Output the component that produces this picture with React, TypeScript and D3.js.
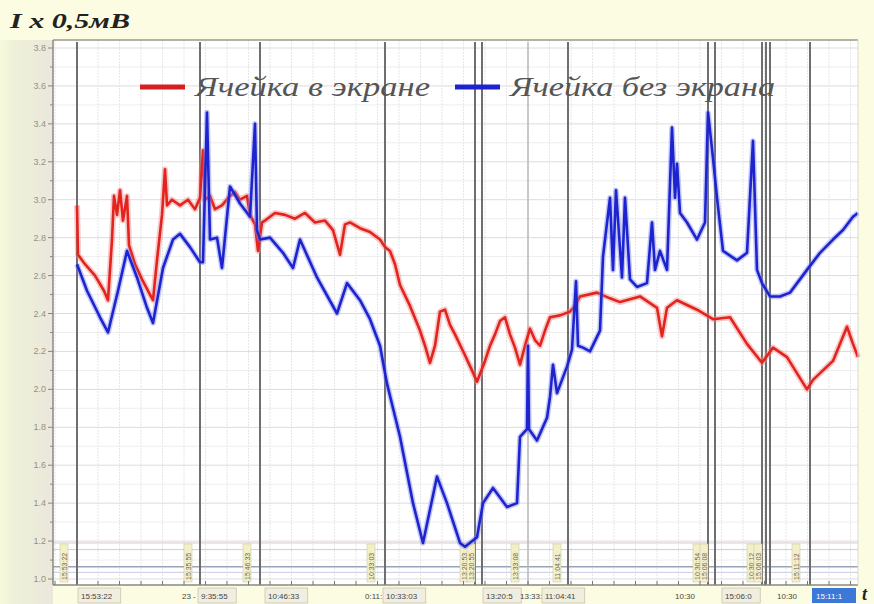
import React from "react";
import * as d3 from "d3";

// time index (arbitrary units, 0..803) and values in units of 0.5 mV
const RED_T = [22,23,30,40,49,53,57,59,62,65,68,72,74,80,87,95,98,102,107,110,112,117,125,133,140,145,148,150,155,160,167,175,180,185,192,195,200,203,207,210,220,230,240,250,260,270,278,285,290,295,305,315,325,330,335,340,345,355,365,370,375,380,385,390,395,400,410,417,422,430,435,440,445,450,455,460,465,470,475,480,485,490,495,505,515,520,525,542,555,565,585,602,607,612,622,642,658,675,692,707,718,732,752,758,778,792,798,803];
const RED_V = [2.97,2.71,2.66,2.60,2.52,2.47,2.79,3.02,2.92,3.05,2.89,3.02,2.76,2.66,2.58,2.50,2.47,2.68,2.92,3.16,2.97,3.00,2.97,3.00,2.95,3.01,3.26,3.00,3.02,2.95,2.97,3.02,3.04,3.00,3.02,2.92,2.87,2.73,2.88,2.89,2.93,2.92,2.90,2.93,2.88,2.89,2.84,2.71,2.87,2.88,2.85,2.83,2.79,2.75,2.73,2.66,2.55,2.44,2.31,2.23,2.14,2.23,2.41,2.42,2.34,2.29,2.18,2.10,2.04,2.15,2.23,2.29,2.36,2.38,2.29,2.22,2.13,2.23,2.32,2.26,2.23,2.31,2.38,2.39,2.41,2.44,2.49,2.51,2.48,2.46,2.49,2.43,2.28,2.43,2.47,2.42,2.37,2.38,2.24,2.14,2.22,2.17,2.00,2.05,2.15,2.33,2.24,2.17];

const BLUE_T = [22,32,45,53,63,72,82,92,98,108,118,125,135,145,148,152,155,162,167,175,185,195,200,202,205,215,228,238,245,262,282,292,305,315,325,332,345,358,368,382,392,405,410,422,428,438,452,462,465,472,473,474,482,492,495,498,502,512,517,521,523,528,535,545,548,555,558,561,567,570,575,582,592,597,600,605,612,617,620,622,625,632,642,650,653,658,662,668,682,692,698,702,707,715,725,735,752,765,778,788,798,803];
const BLUE_V = [2.66,2.52,2.38,2.30,2.52,2.73,2.59,2.43,2.35,2.64,2.79,2.82,2.75,2.67,2.67,3.46,2.79,2.80,2.64,3.07,2.98,2.91,3.40,2.84,2.79,2.80,2.72,2.64,2.79,2.59,2.40,2.56,2.47,2.37,2.23,2.03,1.75,1.40,1.19,1.54,1.40,1.19,1.17,1.22,1.40,1.48,1.38,1.40,1.75,1.79,2.23,1.79,1.73,1.85,1.96,2.13,1.98,2.12,2.21,2.57,2.23,2.22,2.20,2.31,2.70,3.01,2.63,3.05,2.59,3.01,2.58,2.54,2.56,2.88,2.63,2.73,2.63,3.38,3.01,3.19,2.93,2.88,2.79,2.88,3.46,3.22,3.01,2.73,2.68,2.72,3.31,2.63,2.56,2.49,2.49,2.51,2.63,2.72,2.79,2.84,2.91,2.93];

const Y_TICKS = [1.0,1.2,1.4,1.6,1.8,2.0,2.2,2.4,2.6,2.8,3.0,3.2,3.4,3.6,3.8];
const MARKERS = [22,145,205,330,420,427,513,653,660,707,711,715,755];
const LIGHT_MARKERS = [473];
const SERIES_NAMES = ["Ячейка в экране", "Ячейка без экрана"];
const BOTTOM_LABELS: [number, string, boolean][] = [
  [26, "15:53:22", true],
  [127, "23 -", false],
  [146, "9:35:55", true],
  [213, "10:46:33", true],
  [310, "0:11:", false],
  [331, "10:33:03", true],
  [431, "13:20:5", true],
  [465, "13:33:", false],
  [490, "11:04:41", true],
  [620, "10:30", false],
  [670, "15:06:0", true],
  [722, "10:30", false],
];
const ROT_LABELS: [number, string][] = [
  [16, "15:53:22"],[140, "15:35:55"],[199, "15:46:33"],[323, "10:33:03"],
  [416, "13:20:53"],[423, "13:20:55"],[467, "13:33:08"],[509, "11:04:41"],
  [649, "10:30:54"],[656, "15:06:08"],[703, "10:30:12"],[710, "15:06:03"],[748, "15:11:12"],
];
const H_MARKS = [1.19, 1.155, 1.065, 1.035];

export default function App() {
  const W = 874, H = 604;
  const x = d3.scaleLinear().domain([0, 803]).range([55, 858]);
  const y = d3.scaleLinear().domain([1.0, 3.8]).range([579, 48]);
  const plotL = 53, plotR = 858, plotT = 40, plotB = 585;

  const red = RED_T.map((t, i) => [t, RED_V[i]] as [number, number]);
  const blue = BLUE_T.map((t, i) => [t, BLUE_V[i]] as [number, number]);
  const line = d3.line<[number, number]>().x(d => x(d[0])).y(d => y(d[1]));

  const minorY = d3.range(1.0, 3.85, 0.1);
  const vGrid = d3.range(0, 803, 21.5);

  return (
    <svg width={W} height={H} style={{ position: "absolute", left: 0, top: 0 }}>
      <defs>
        <linearGradient id="lg" x1="0" x2="1" y1="0" y2="0">
          <stop offset="0" stopColor="#f6f9da" />
          <stop offset="0.25" stopColor="#eef1d8" />
          <stop offset="1" stopColor="#ebe7dc" />
        </linearGradient>
      </defs>
      <rect x={0} y={0} width={W} height={H} fill="#fcfce2" />
      <rect x={0} y={plotT} width={plotL} height={H - plotT} fill="url(#lg)" />
      <rect x={plotL} y={plotT} width={plotR - plotL} height={plotB - plotT} fill="#ffffff" />

      {/* grid */}
      {minorY.map((v, i) => (
        <line key={"my" + i} x1={plotL} x2={plotR} y1={y(v)} y2={y(v)} stroke={i % 2 === 0 ? "#dcdcdc" : "#eeeeee"} strokeWidth={1} />
      ))}
      {vGrid.map((t, i) => (
        <line key={"vg" + i} x1={x(t)} x2={x(t)} y1={plotT} y2={plotB} stroke="#e6e6e6" strokeWidth={1} strokeDasharray="2,1" />
      ))}
      {H_MARKS.map((v, i) => (
        <line key={"hm" + i} x1={plotL} x2={plotR} y1={y(v)} y2={y(v)} stroke={i === 2 ? "#9aa4b8" : i === 0 ? "#d6c8c8" : "#c8cede"} strokeWidth={i === 2 ? 1.5 : 1} />
      ))}

      {/* event markers */}
      {MARKERS.map((t, i) => (
        <line key={"mk" + i} x1={x(t)} x2={x(t)} y1={plotT + 2} y2={plotB} stroke="#6f6f6f" strokeWidth={2} />
      ))}
      {LIGHT_MARKERS.map((t, i) => (
        <line key={"lm" + i} x1={x(t)} x2={x(t)} y1={plotT + 2} y2={plotB} stroke="#b8b8b8" strokeWidth={1.5} />
      ))}

      {/* rotated labels */}
      {ROT_LABELS.map(([t, s], i) => (
        <g key={"rl" + i} transform={`translate(${x(t) - 5},${582}) rotate(-90)`}>
          <rect x={0} y={-6} width={38} height={8} fill="#f3f0c8" stroke="#c8c4a0" strokeWidth={0.5} />
          <text x={2} y={1} fontSize={7} fill="#666" fontFamily="Liberation Sans, Arial">{s}</text>
        </g>
      ))}

      {/* series */}
      <path d={line(red) || ""} fill="none" stroke="#f08888" strokeWidth={6} strokeOpacity={0.45} strokeLinejoin="round" />
      <path d={line(red) || ""} fill="none" stroke="#e3231d" strokeWidth={2.6} strokeLinejoin="round" />
      <path d={line(blue) || ""} fill="none" stroke="#7d83ee" strokeWidth={5.5} strokeOpacity={0.45} strokeLinejoin="round" />
      <path d={line(blue) || ""} fill="none" stroke="#1d24cf" strokeWidth={2.6} strokeLinejoin="round" />

      {/* frame */}
      <line x1={plotL} x2={plotR} y1={plotT} y2={plotT} stroke="#9a9a8a" strokeWidth={1.5} />
      <line x1={plotL} x2={plotL} y1={plotT} y2={plotB} stroke="#8a8a80" strokeWidth={1.5} />
      <line x1={plotL} x2={plotR} y1={plotB} y2={plotB} stroke="#8a8a80" strokeWidth={1.5} />
      <line x1={plotR} x2={plotR} y1={plotT} y2={plotB} stroke="#d8d8d0" strokeWidth={1} />

      {/* y axis */}
      {minorY.map((v, i) => (
        <line key={"yt" + i} x1={plotL - (i % 2 === 0 ? 5 : 3)} x2={plotL} y1={y(v)} y2={y(v)} stroke="#8a8a80" strokeWidth={1} />
      ))}
      {Y_TICKS.map((v, i) => (
        <text key={"yl" + i} x={plotL - 7} y={y(v) + 3} fontSize={9} fill="#9a8f80" textAnchor="end" fontFamily="Liberation Sans, Arial">{v.toFixed(1)}</text>
      ))}
      {/* x ticks */}
      {vGrid.map((t, i) => (
        <line key={"xt" + i} x1={x(t)} x2={x(t)} y1={plotB - 4} y2={plotB} stroke="#777" strokeWidth={1} />
      ))}

      {/* bottom labels */}
      {BOTTOM_LABELS.map(([t, s, boxed], i) => (
        <g key={"bl" + i}>
          {boxed && <rect x={x(t) - 3} y={588} width={s.length * 4.6 + 6} height={15} fill="#f1eee0" stroke="#b8b4a0" strokeWidth={0.6} />}
          <text x={x(t)} y={599} fontSize={8} fill="#444" fontFamily="Liberation Sans, Arial">{s}</text>
        </g>
      ))}
      <rect x={x(757)} y={588} width={44} height={15} fill="#3b78d8" />
      <text x={x(761)} y={599} fontSize={8} fill="#ffffff" fontFamily="Liberation Sans, Arial">15:11:1</text>

      {/* title */}
      <text x={10} y={28} fontSize={20} fontWeight="bold" fontStyle="italic" fill="#222" fontFamily="Liberation Serif, Times New Roman, serif" textLength={120} lengthAdjust="spacingAndGlyphs">I x 0,5мВ</text>
      <text x={862} y={600} fontSize={18} fontWeight="bold" fontStyle="italic" fill="#222" fontFamily="Liberation Serif, serif">t</text>

      {/* legend */}
      <line x1={140} x2={185} y1={87} y2={87} stroke="#d42020" strokeWidth={5} />
      <text x={195} y={96} fontSize={28} fontStyle="italic" fill="#555" fontFamily="Liberation Serif, serif" textLength={235} lengthAdjust="spacingAndGlyphs">{SERIES_NAMES[0]}</text>
      <line x1={455} x2={500} y1={87} y2={87} stroke="#1d24cf" strokeWidth={5} />
      <text x={510} y={96} fontSize={28} fontStyle="italic" fill="#555" fontFamily="Liberation Serif, serif" textLength={265} lengthAdjust="spacingAndGlyphs">{SERIES_NAMES[1]}</text>
    </svg>
  );
}
